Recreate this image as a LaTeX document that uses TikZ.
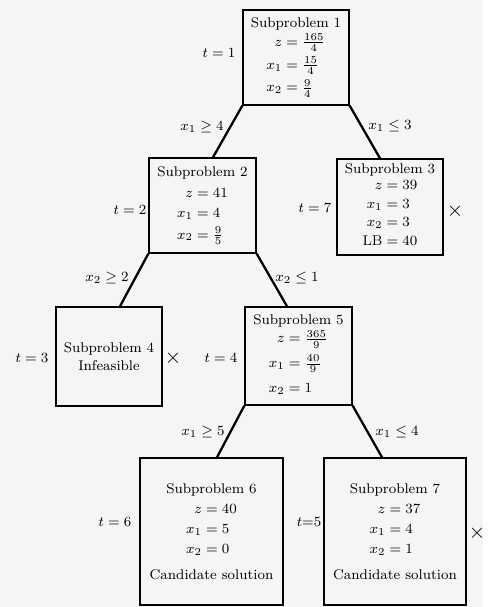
\documentclass[tikz,border=0pt]{standalone}
\usepackage{amsmath}
\usepackage{amssymb}
\usetikzlibrary{positioning}

\begin{document}
\begin{tikzpicture}[x=0.02cm,y=-0.02cm,
  subbox/.style={draw,line width=0.8pt,inner sep=0pt,align=center,font=\footnotesize},
  branch/.style={line width=1.3pt},
  lbl/.style={font=\footnotesize},
  cut/.style={font=\large}]
\fill[black!4] (0,0) rectangle (483,607);
%
\node[subbox,minimum width=2.12cm,minimum height=1.9cm] (sp1) at (296,57.5)
  {Subproblem 1\\[1pt] $\begin{array}{r@{\;=\;}l} z & \frac{165}{4}\\[3pt] x_1 & \frac{15}{4}\\[3pt] x_2 & \frac{9}{4}\end{array}$};
\node[subbox,minimum width=2.14cm,minimum height=1.9cm] (sp2) at (202.5,205.5)
  {Subproblem 2\\[3pt] $\begin{array}{r@{\;=\;}l} z & 41\\[2pt] x_1 & 4\\[2pt] x_2 & \frac{9}{5}\end{array}$};
\node[subbox,minimum width=2.12cm,minimum height=1.92cm] (sp3) at (390,207)
  {Subproblem 3\\[0pt] $\begin{array}{r@{\;=\;}l} z & 39\\[1pt] x_1 & 3\\[1pt] x_2 & 3\\[1pt] \mathrm{LB} & 40\end{array}$};
\node[subbox,minimum width=2.12cm,minimum height=1.98cm] (sp4) at (109,356.5)
  {Subproblem 4\\[1pt] Infeasible};
\node[subbox,minimum width=2.14cm,minimum height=1.96cm] (sp5) at (298.5,356)
  {Subproblem 5\\[1pt] $\begin{array}{r@{\;=\;}l} z & \frac{365}{9}\\[4pt] x_1 & \frac{40}{9}\\[5pt] x_2 & 1\end{array}$};
\node[subbox,minimum width=2.86cm,minimum height=2.94cm] (sp6) at (211.5,531.5)
  {Subproblem 6\\[2pt] $\begin{array}{r@{\;=\;}l} z & 40\\[2pt] x_1 & 5\\[2pt] x_2 & 0\end{array}$\\[5pt] Candidate solution};
\node[subbox,minimum width=2.84cm,minimum height=2.94cm] (sp7) at (395,531.5)
  {Subproblem 7\\[2pt] $\begin{array}{r@{\;=\;}l} z & 37\\[2pt] x_1 & 4\\[2pt] x_2 & 1\end{array}$\\[5pt] Candidate solution};
%
\draw[branch] (sp1.south west) -- ([xshift=0.21cm]sp2.north);
\draw[branch] (sp1.south east) -- ([xshift=-0.2cm]sp3.north);
\draw[branch] (sp2.south west) -- ([xshift=0.22cm]sp4.north);
\draw[branch] (sp2.south east) -- ([xshift=-0.23cm]sp5.north);
\draw[branch] (sp5.south west) -- ([xshift=0.11cm]sp6.north);
\draw[branch] (sp5.south east) -- ([xshift=-0.26cm]sp7.north);
%
\node[lbl] (b12) at (202,127) {$x_1 \geq 4$};
\node[lbl] (b13) at (390,126) {$x_1 \leq 3$};
\node[lbl] (b24) at (107,278) {$x_2 \geq 2$};
\node[lbl] (b25) at (297,278) {$x_2 \leq 1$};
\node[lbl] (b56) at (203,432) {$x_1 \geq 5$};
\node[lbl] (b57) at (397,432) {$x_1 \leq 4$};
%
\node[lbl] (t1) at (219,53) {$t = 1$};
\node[lbl] (t2) at (130,210) {$t = 2$};
\node[lbl] (t7) at (315,208) {$t = 7$};
\node[lbl] (t3) at (32,358) {$t = 3$};
\node[lbl] (t4) at (221,358) {$t = 4$};
\node[lbl] (t6) at (115,522) {$t = 6$};
\node[lbl] (t5) at (309,522) {$t{=}5$};
%
\node[cut] (x3) at (455,211) {$\times$};
\node[cut] (x4) at (173,358) {$\times$};
\node[cut] (x7) at (477,533) {$\times$};
\end{tikzpicture}
\end{document}
